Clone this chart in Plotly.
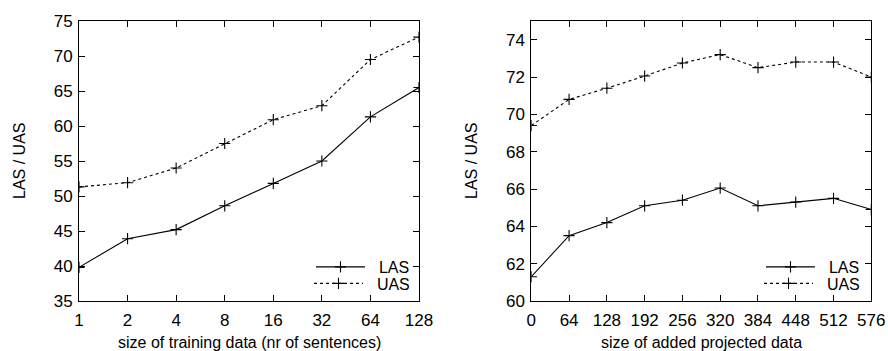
import plotly.graph_objects as go

# Left panel: training data size
train_sizes = [1, 2, 4, 8, 16, 32, 64, 128]
train_las = [39.8, 43.9, 45.2, 48.6, 51.8, 55.0, 61.3, 65.5]
train_uas = [51.3, 51.9, 54.0, 57.5, 60.9, 62.9, 69.5, 72.7]

# Right panel: added projected data
proj_sizes = [0, 64, 128, 192, 256, 320, 384, 448, 512, 576]
proj_las = [61.3, 63.5, 64.2, 65.1, 65.4, 66.05, 65.1, 65.3, 65.5, 64.9]
proj_uas = [69.4, 70.8, 71.4, 72.05, 72.75, 73.2, 72.5, 72.8, 72.8, 72.0]

left_yticks = [35, 40, 45, 50, 55, 60, 65, 70, 75]
right_yticks = [60, 62, 64, 66, 68, 70, 72, 74]

FONT = "Liberation Sans, Arial, Helvetica, sans-serif"
FS = 16
TFS = 17
W, H = 888, 351
PAD = "\u00a0\u00a0"

fig = go.Figure()

def add(x, y, name, dash, xa, ya, leg):
    fig.add_trace(go.Scatter(
        x=x, y=y, name=PAD + name, mode="lines+markers",
        line=dict(color="black", width=1.1, dash=dash),
        marker=dict(symbol="cross-thin", size=8, line=dict(color="black", width=1.1)),
        xaxis=xa, yaxis=ya, legend=leg, showlegend=True,
    ))

add(train_sizes, train_las, "LAS", "solid", "x", "y", "legend")
add(train_sizes, train_uas, "UAS", "3px,3px", "x", "y", "legend2")
add(proj_sizes, proj_las, "LAS", "solid", "x2", "y2", "legend3")
add(proj_sizes, proj_uas, "UAS", "3px,3px", "x2", "y2", "legend4")

ydom = [50 / H, 330 / H]
xdom1 = [79 / W, 419 / W]
xdom2 = [531.3 / W, 871.3 / W]

axcommon = dict(showline=True, linecolor="black", linewidth=1, mirror="ticks",
                ticks="inside", ticklen=6, tickcolor="black", tickwidth=1,
                showgrid=False, zeroline=False, automargin=False,
                tickfont=dict(family=FONT, size=TFS, color="black"))

fig.update_layout(
    width=W, height=H,
    margin=dict(l=0, r=0, t=0, b=0),
    paper_bgcolor="white", plot_bgcolor="white",
    font=dict(family=FONT, size=FS, color="black"),
    xaxis=dict(domain=xdom1, type="log", range=[0, 2.10721],
               tickvals=train_sizes, ticktext=[str(v) for v in train_sizes],
               anchor="y", ticklabelstandoff=4, **axcommon),
    yaxis=dict(domain=ydom, range=[35, 75], tickvals=left_yticks,
               anchor="x", ticklabelstandoff=2, **axcommon),
    xaxis2=dict(domain=xdom2, range=[0, 576], tickvals=proj_sizes,
                anchor="y2", ticklabelstandoff=4, **axcommon),
    yaxis2=dict(domain=ydom, range=[60, 75], tickvals=right_yticks,
                anchor="x2", ticklabelstandoff=2, **axcommon),
)

legcommon = dict(bgcolor="rgba(0,0,0,0)", borderwidth=0, itemwidth=49,
                 font=dict(family=FONT, size=FS, color="black"),
                 xanchor="right", yanchor="middle", tracegroupgap=0)
fig.update_layout(
    legend=dict(x=415 / W, y=1 - 267 / H, **legcommon),
    legend2=dict(x=415 / W, y=1 - 283.5 / H, **legcommon),
    legend3=dict(x=865 / W, y=1 - 267 / H, **legcommon),
    legend4=dict(x=865 / W, y=1 - 283.5 / H, **legcommon),
)

ann = [
    dict(text="LAS / UAS", x=19 / W, y=sum(ydom) / 2, textangle=-90),
    dict(text="LAS / UAS", x=471 / W, y=sum(ydom) / 2, textangle=-90),
    dict(text="size of training data (nr of sentences)", x=sum(xdom1) / 2, y=1 - 342 / H),
    dict(text="size of added projected data", x=sum(xdom2) / 2, y=1 - 342 / H),
]
for a in ann:
    fig.add_annotation(xref="paper", yref="paper", showarrow=False,
                       xanchor="center", yanchor="middle",
                       font=dict(family=FONT, size=FS, color="black"), **a)

fig.write_html("out.html", config={"displayModeBar": False},
               post_script="document.body.style.margin='0';")
